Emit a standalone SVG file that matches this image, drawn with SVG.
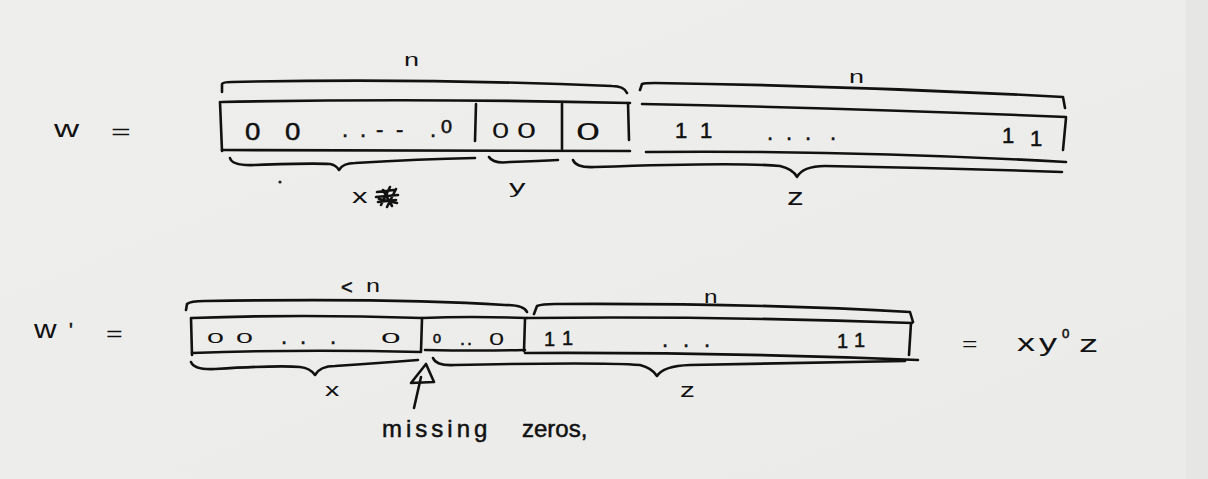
<svg xmlns="http://www.w3.org/2000/svg" width="1208" height="479" viewBox="0 0 1208 479">
<style>
  .ln{fill:none;stroke:#111;stroke-width:2.6;stroke-linecap:round;stroke-linejoin:round}
  .t{font-family:"Liberation Sans","DejaVu Sans",sans-serif;fill:#111;stroke:#111;stroke-width:0.5}
  .s{font-family:"Liberation Sans","DejaVu Sans",sans-serif;fill:#111}
</style>
<defs>
  <linearGradient id="bg" x1="0" y1="0" x2="1" y2="1">
    <stop offset="0" stop-color="#eeeeec"/>
    <stop offset="1" stop-color="#ebebe9"/>
  </linearGradient>
</defs>
<rect width="1208" height="479" fill="url(#bg)"/>
<rect x="1186" y="0" width="22" height="479" fill="#e6e6e4"/>

<!-- Row 1 -->
<g id="w-label">
  <text class="s" font-size="24" transform="translate(54,137) scale(1.45,1)">w</text>
  <text class="s" font-size="26" transform="translate(111,139) scale(1.3,0.8)">=</text>
</g>

<g id="w-top-braces">
  <path class="ln" d="M222,92 L222,84 Q223,82 232,82 Q420,78 612,86 Q624,86 627,93"/>
  <text class="s" font-size="18" transform="translate(404,66) scale(1.5,1)">n</text>
  <path class="ln" d="M640,90 L642,84 Q645,83 655,83 Q860,86 1063,97 L1065,108"/>
  <text class="s" font-size="18" transform="translate(849,83) scale(1.5,1)">n</text>
</g>

<g id="w-box">
  <path class="ln" d="M222,102 Q420,98 630,103"/>
  <path class="ln" d="M222,150 Q420,150 630,151"/>
  <path class="ln" d="M220,102 L222,151"/>
  <path class="ln" d="M476,104 L475,141"/>
  <path class="ln" d="M562,104 L562,149"/>
  <path class="ln" d="M628,103 L629,140"/>
  <path class="ln" d="M642,104 Q850,108 1066,117"/>
  <path class="ln" d="M646,152 Q850,150 1066,162"/>
  <path class="ln" d="M1066,118 L1063,150"/>
  <text class="t" font-size="24" transform="translate(245,140) scale(1.15,1)">0</text>
  <text class="t" font-size="24" transform="translate(285,140) scale(1.15,1)">0</text>
  <text class="t" font-size="22" x="342 360 376 396 430" y="137">..--.</text>
  <text class="t" font-size="18" transform="translate(441,133) scale(1.1,1)">0</text>
  <text class="s" font-size="22" transform="translate(492,138) scale(1.4,1)">0</text>
  <text class="s" font-size="22" transform="translate(517,138) scale(1.55,1)">0</text>
  <text class="s" font-size="24" transform="translate(576,140) scale(1.8,1)">0</text>
  <text class="t" font-size="22" x="675" y="138">1</text>
  <text class="t" font-size="22" x="700" y="138">1</text>
  <text class="t" font-size="22" x="767 786 805 830" y="140">....</text>
  <text class="t" font-size="22" x="1002" y="143">1</text>
  <text class="t" font-size="22" x="1030" y="146">1</text>
</g>

<g id="w-bottom-braces">
  <path class="ln" d="M230,158 Q232,166 255,165 Q310,163 330,164 Q336,165 339,170 Q343,163 355,163 Q420,159 475,158"/>
  <circle cx="280" cy="182" r="1.6" fill="#222"/>
  <text class="s" font-size="24" transform="translate(352,203) scale(1.3,0.85)">x</text>
  <path class="ln" d="M377,192 L394,190 M376,197 L398,195 M378,202 L396,200 M381,205 L390,187 M387,207 L396,189 M383,190 L392,206 M379,199 L397,203" stroke-width="2"/>
  <path class="ln" d="M489,157 Q493,164 510,162 Q540,161 558,160"/>
  <text class="s" font-size="22" transform="translate(509,193) scale(1.5,0.85)">y</text>
  <path class="ln" d="M573,160 Q576,168 595,167 Q740,162 780,166 Q793,169 797,177 Q803,166 825,166 Q950,168 1062,172"/>
  <text class="s" font-size="24" transform="translate(787,205) scale(1.4,1)">z</text>
</g>

<!-- Row 2 -->
<g id="w2-label">
  <text class="s" font-size="25" transform="translate(34,338) scale(1.25,1)">w</text>
  <text class="t" font-size="20" x="69" y="337">'</text>
  <text class="s" font-size="26" transform="translate(106,341) scale(1.1,0.8)">=</text>
</g>

<g id="w2-top-braces">
  <path class="ln" d="M186,310 L187,304 Q190,301 205,301 Q400,298 505,305 Q524,305 527,312"/>
  <text class="t" font-size="20" x="341" y="294">&lt;</text>
  <text class="s" font-size="18" transform="translate(366,292) scale(1.4,1)">n</text>
  <path class="ln" d="M534,314 L537,306 Q542,304 555,304 Q760,303 910,312 L913,322"/>
  <text class="s" font-size="18" transform="translate(704,303) scale(1.35,1)">n</text>
</g>

<g id="w2-box">
  <path class="ln" d="M192,318 Q300,314 422,318"/>
  <path class="ln" d="M422,318 Q470,316 527,318"/>
  <path class="ln" d="M527,318 Q720,316 912,323"/>
  <path class="ln" d="M192,353 Q300,349 421,352"/>
  <path class="ln" d="M425,350 Q480,351 525,350"/>
  <path class="ln" d="M525,353 Q720,352 918,360"/>
  <path class="ln" d="M191,318 L192,355"/>
  <path class="ln" d="M422,319 L421,351"/>
  <path class="ln" d="M525,319 L524,351"/>
  <path class="ln" d="M911,323 L909,355"/>
  <text class="s" font-size="16" transform="translate(207,343) scale(1.9,0.9)">0</text>
  <text class="s" font-size="16" transform="translate(236,343) scale(1.9,0.9)">0</text>
  <text class="t" font-size="22" x="281 300 330" y="344">...</text>
  <text class="s" font-size="16" transform="translate(381,343) scale(2.2,0.9)">0</text>
  <text class="t" font-size="12" transform="translate(433,343) scale(1.2,1)">0</text>
  <text class="t" font-size="18" x="460 467" y="345">..</text>
  <text class="s" font-size="17" transform="translate(489,345) scale(1.6,1)">0</text>
  <text class="t" font-size="20" x="544" y="346">1</text>
  <text class="t" font-size="20" x="562" y="345">1</text>
  <text class="t" font-size="22" x="662 683 704" y="347">...</text>
  <text class="t" font-size="20" x="837" y="348">1</text>
  <text class="t" font-size="20" x="854" y="347">1</text>
</g>

<g id="w2-bottom-braces">
  <path class="ln" d="M191,362 Q194,370 215,369 Q280,365 300,367 Q310,368 315,375 Q320,366 335,366 Q380,363 418,360"/>
  <text class="s" font-size="22" transform="translate(325,396) scale(1.3,0.85)">x</text>
  <path class="ln" d="M433,358 Q436,366 455,365 Q600,362 640,365 Q652,368 657,376 Q663,366 690,365 Q800,363 905,361"/>
  <text class="s" font-size="22" transform="translate(680,397) scale(1.35,0.9)">z</text>
</g>

<g id="result">
  <text class="s" font-size="24" transform="translate(962,350) scale(1.1,0.75)">=</text>
  <text class="s" font-size="24" transform="translate(1017,351) scale(1.5,1)">x</text>
  <text class="s" font-size="24" transform="translate(1039,351) scale(1.5,1)">y</text>
  <text class="t" font-size="12" transform="translate(1062,338) scale(1.1,1)">0</text>
  <text class="s" font-size="24" transform="translate(1079,352) scale(1.6,1)">z</text>
</g>

<g id="missing-label">
  <text class="t" font-size="24" x="382" y="437" letter-spacing="4">missing</text>
  <text class="t" font-size="24" x="522" y="437">zeros,</text>
</g>

<g id="connectors">
  <path class="ln" d="M414,408 L421,377"/>
  <path class="ln" d="M411,383 L426,364 L434,382 Z"/>
</g>
</svg>
